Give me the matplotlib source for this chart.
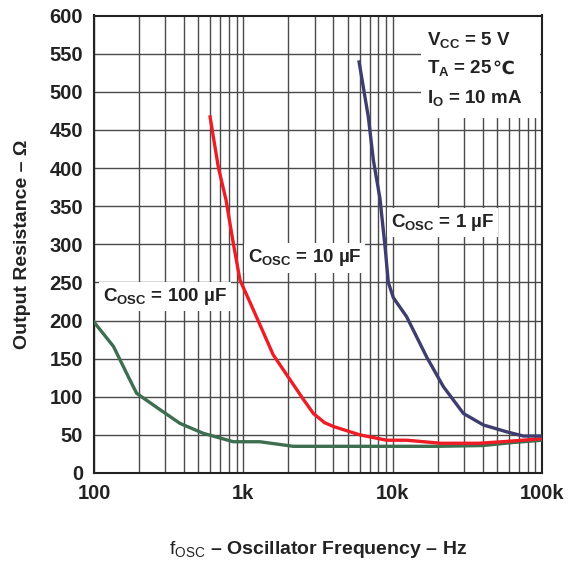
import matplotlib
matplotlib.use("Agg")
import matplotlib.pyplot as plt
from matplotlib.ticker import FixedLocator, NullFormatter
from matplotlib.patches import Rectangle

plt.rcParams['font.family'] = ['Liberation Sans', 'DejaVu Sans']
plt.rcParams['mathtext.fontset'] = 'custom'
plt.rcParams['mathtext.rm'] = 'Liberation Sans:bold'
plt.rcParams['mathtext.it'] = 'Liberation Sans:bold'
plt.rcParams['mathtext.bf'] = 'Liberation Sans:bold'
plt.rcParams['mathtext.sf'] = 'Liberation Sans'

# ---- data ----
f_100uF = [100, 135, 170, 193, 277, 377, 540, 857, 1290, 2160, 5000, 10000, 20000, 40000, 64000, 100000]
r_100uF = [198, 166, 126, 104.5, 83, 65, 52, 41, 41, 35, 35, 35, 35, 36, 40, 43]

f_10uF = [599, 680, 766, 857, 950, 1167, 1585, 2515, 2947, 3500, 4010, 6030, 9120, 12400, 21000, 38000, 64000, 100000]
r_10uF = [467, 401, 358, 301, 253, 214, 155, 97, 78, 66, 61, 50, 43, 43, 39, 39, 42, 45]

f_1uF = [5960, 6870, 7430, 8220, 8890, 9350, 10100, 12400, 16900, 21900, 29800, 40500, 58000, 75000, 100000]
r_1uF = [539, 467, 410, 360, 297, 250, 230, 205, 152, 113, 78, 63, 54, 48.5, 48.5]

x_ticks = [100, 1000, 10000, 100000]
x_tick_labels = ['100', '1k', '10k', '100k']
y_ticks = list(range(0, 601, 50))

fig = plt.figure(figsize=(5.78, 5.62), dpi=100)
ax = fig.add_axes([94/578, 1-473/562, (542-94)/578, (473-15.5)/562])

ax.set_xscale('log')
ax.set_xlim(100, 100000)
ax.set_ylim(0, 600)
ax.set_axisbelow(True)

ax.xaxis.set_major_locator(FixedLocator(x_ticks))
ax.set_xticklabels(x_tick_labels)
minor = [m * 10**e for e in range(2, 5) for m in range(2, 10)]
ax.xaxis.set_minor_locator(FixedLocator(minor))
ax.xaxis.set_minor_formatter(NullFormatter())
ax.set_yticks(y_ticks)

ax.grid(True, which='both', axis='x', color='#4a4a4a', lw=1.0)
ax.grid(True, which='major', axis='y', color='#4a4a4a', lw=1.0)
ax.tick_params(which='both', length=0, labelsize=14.5, pad=8)
for lab in ax.get_xticklabels() + ax.get_yticklabels():
    lab.set_fontweight('bold')
    lab.set_color('#222222')
for s in ax.spines.values():
    s.set_color('#222222')
    s.set_linewidth(1.5)

ax.plot(f_100uF, r_100uF, color='#3d6e4f', lw=2.4, zorder=3)
ax.plot(f_10uF, r_10uF, color='#ee1c25', lw=2.4, zorder=3)
ax.plot(f_1uF, r_1uF, color='#3e3d70', lw=2.4, zorder=3)

bb = dict(facecolor='white', edgecolor='none', pad=3)
ax.text(115, 231, r'C$_{\mathrm{OSC}}$ = 100 µF', fontsize=13.5, fontweight='bold',
        va='center', ha='left', bbox=bb, zorder=2, color='#222222')
ax.text(1070, 282, r'C$_{\mathrm{OSC}}$ = 10 µF', fontsize=13.5, fontweight='bold',
        va='center', ha='left', bbox=bb, zorder=2, color='#222222')
ax.text(9750, 329, r'C$_{\mathrm{OSC}}$ = 1 µF', fontsize=13.5, fontweight='bold',
        va='center', ha='left', bbox=bb, zorder=2, color='#222222')

ax.add_patch(Rectangle((0.729, 0.776), 0.266, 0.222, transform=ax.transAxes,
                       facecolor='white', edgecolor='none', zorder=1.8))
ax.text(17000, 568, r'V$_{\mathrm{CC}}$ = 5 V', fontsize=13.5, fontweight='bold',
        va='center', ha='left', zorder=2.5, color='#222222')
t_ta = ax.text(17000, 531, r'T$_{\mathrm{A}}$ = 25', fontsize=13.5, fontweight='bold',
               va='center', ha='left', zorder=2.5, color='#222222')
ax.annotate('℃', xy=(1.0, 0.0), xycoords=t_ta, xytext=(0, 0), textcoords='offset points',
            fontsize=13, fontweight='bold', family=['DejaVu Sans'],
            va='bottom', ha='left', zorder=2.5, color='#222222')
ax.text(17000, 492, r'I$_{\mathrm{O}}$ = 10 mA', fontsize=13.5, fontweight='bold',
        va='center', ha='left', zorder=2.5, color='#222222')

ax.set_xlabel(r'$\mathsf{f_{OSC}}$ – Oscillator Frequency – Hz', fontsize=14,
              fontweight='bold', labelpad=26, color='#222222')
ax.set_ylabel('Output Resistance – Ω', fontsize=14, fontweight='bold',
              labelpad=13, color='#222222')

fig.savefig('out.png', dpi=100)
